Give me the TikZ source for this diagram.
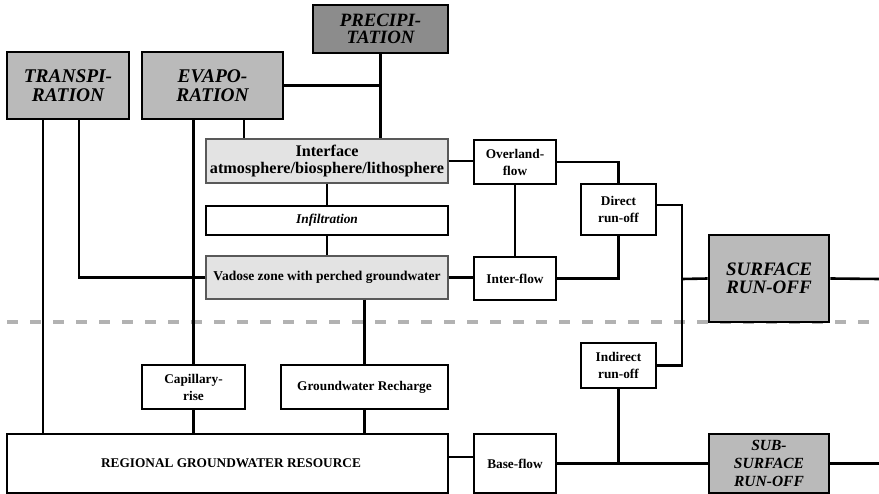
\documentclass[tikz,border=0pt]{standalone}
\usepackage{fontspec}
\setmainfont{Liberation Serif}
\begin{document}
\begin{tikzpicture}[x=1pt,y=-1pt,
  box/.style={draw=black,line width=2.6pt,rectangle,inner sep=0pt,align=center,font=\bfseries\fontsize{13.3}{17}\selectfont},
  bigbox/.style={box,fill=black!27,font=\bfseries\itshape\fontsize{19.4}{19}\selectfont},
  precbox/.style={bigbox,fill=black!45,font=\bfseries\itshape\fontsize{18.8}{17.5}\selectfont},
  lightbox/.style={box,draw=black!65,line width=1.2pt,fill=black!11},
  conn/.style={line width=2.6pt},
  sep/.style={line width=4pt,draw=black!30,dash pattern=on 11pt off 12pt}]
\useasboundingbox (0,0) rectangle (879,494);
\coordinate (dl) at (7,322);
\coordinate (dr) at (879,322);
\draw[sep] (dl) -- (dr);
% nodes
\node[precbox,minimum width=135,minimum height=48] (prec) at (380.5,29) {PRECIPI-\\TATION};
\node[bigbox,minimum width=122,minimum height=67] (trans) at (68,85.5) {TRANSPI-\\RATION};
\node[bigbox,minimum width=141,minimum height=67] (evap) at (212.5,85.5) {EVAPO-\\RATION};
\node[lightbox,minimum width=242,minimum height=44,font=\bfseries\fontsize{16.2}{17.8}\selectfont] (iface) at (327,161) {Interface\\atmosphere/biosphere/lithosphere};
\node[box,minimum width=242,minimum height=29,font=\bfseries\itshape\fontsize{13.4}{15}\selectfont] (infil) at (327,220.5) {Infiltration};
\node[lightbox,minimum width=242,minimum height=43,font=\bfseries\fontsize{13.5}{16}\selectfont] (vad) at (327,277.5) {Vadose zone with perched groundwater};
\node[box,minimum width=103,minimum height=44] (cap) at (193.5,387) {Capillary-\\rise};
\node[box,minimum width=167,minimum height=44] (gwr) at (364.5,387) {Groundwater Recharge};
\node[box,minimum width=441,minimum height=59] (reg) at (227.5,463.5) {\hspace*{7pt}REGIONAL GROUNDWATER RESOURCE};
\node[box,minimum width=82,minimum height=44] (over) at (515,162) {Overland-\\flow};
\node[box,minimum width=82,minimum height=43] (inter) at (515,278.5) {Inter-flow};
\node[box,minimum width=75,minimum height=51] (direct) at (618.5,209.5) {Direct\\run-off};
\node[bigbox,minimum width=120,minimum height=87,font=\bfseries\itshape\fontsize{19}{18}\selectfont] (surf) at (769,278.5) {SURFACE\\RUN-OFF};
\node[box,minimum width=75,minimum height=45] (indirect) at (618.5,365.5) {Indirect\\run-off};
\node[box,minimum width=82,minimum height=59] (base) at (515,463.5) {Base-flow};
\node[bigbox,minimum width=120,minimum height=59,font=\bfseries\itshape\fontsize{15.5}{18.3}\selectfont] (sub) at (769,463.5) {SUB-\\SURFACE\\RUN-OFF};
\coordinate (bus) at (682,279);
\coordinate (sre) at (879,279);
\coordinate (sbe) at (879,463.5);
\coordinate (de) at ([yshift=4.5pt]direct.east);
\coordinate (re) at ([yshift=6.5pt]reg.east);
\coordinate (ev1) at ([xshift=31.5pt]evap.south);
\coordinate (tr1) at ([xshift=-25pt]trans.south);
\coordinate (tr2) at ([xshift=11pt]trans.south);
% connectors
\draw[conn] (prec.south) -- (prec.south |- iface.north);
\draw[conn] (evap.east) -- (evap.east -| prec.south);
\draw[conn] (ev1) -- (ev1 |- iface.north);
\draw[conn] (cap.north |- evap.south) -- (cap.north);
\draw[conn] (tr1) -- (tr1 |- reg.north);
\draw[conn] (tr2) |- (vad.west);
\draw[conn] (iface.south) -- (infil.north);
\draw[conn] (infil.south) -- (vad.north);
\draw[conn] (gwr.north |- vad.south) -- (gwr.north);
\draw[conn] (cap.south) -- (cap.south |- reg.north);
\draw[conn] (gwr.south) -- (gwr.south |- reg.north);
\draw[conn] (iface.east) -- (over.west |- iface.east);
\draw[conn] (over.east) -| (direct.north);
\draw[conn] (over.south) -- (inter.north);
\draw[conn] (vad.east) -- (inter.west |- vad.east);
\draw[conn] (inter.east) -| (direct.south);
\draw[conn] (de) -- (bus |- de) -- (bus |- indirect.east) -- (indirect.east);
\draw[conn] (bus) -- (surf.west);
\draw[conn] (surf.east) -- (sre);
\draw[conn] (re) -- (base.west |- re);
\draw[conn] (base.east) -- (sub.west);
\draw[conn] (indirect.south) -- (indirect.south |- base.east);
\draw[conn] (sub.east) -- (sbe);
\end{tikzpicture}
\end{document}
